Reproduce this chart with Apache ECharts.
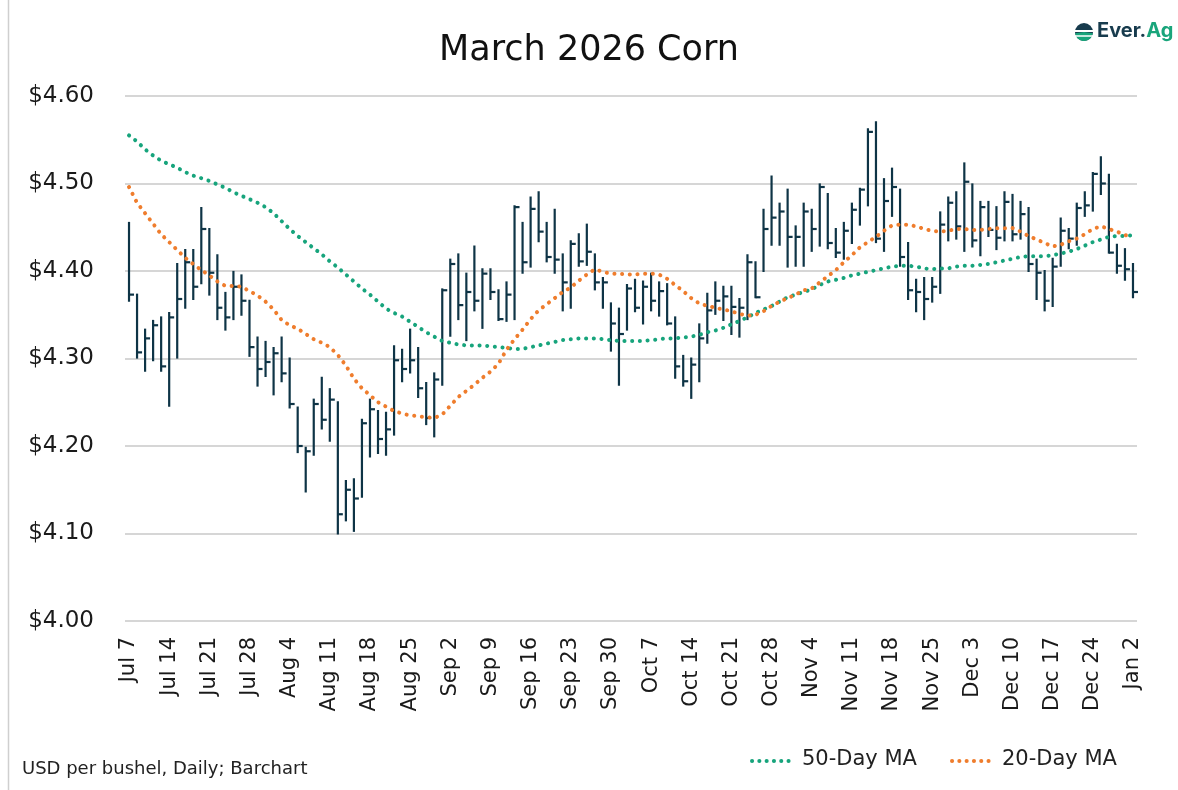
<!DOCTYPE html>
<html>
<head>
<meta charset="utf-8">
<script src="https://cdn.jsdelivr.net/npm/echarts@6/dist/echarts.min.js"></script>
<style>
html,body{margin:0;padding:0;background:#fff;}
#chart{width:1178px;height:790px;}
</style>
</head>
<body>
<div id="chart"></div>
<script>
// Trading days, Jul 7 2025 – Jan 2 2026
const categories = [
 "Jul 7","Jul 8","Jul 9","Jul 10","Jul 11","Jul 14","Jul 15","Jul 16","Jul 17","Jul 18",
 "Jul 21","Jul 22","Jul 23","Jul 24","Jul 25","Jul 28","Jul 29","Jul 30","Jul 31","Aug 1",
 "Aug 4","Aug 5","Aug 6","Aug 7","Aug 8","Aug 11","Aug 12","Aug 13","Aug 14","Aug 15",
 "Aug 18","Aug 19","Aug 20","Aug 21","Aug 22","Aug 25","Aug 26","Aug 27","Aug 28","Aug 29",
 "Sep 2","Sep 3","Sep 4","Sep 5","Sep 8","Sep 9","Sep 10","Sep 11","Sep 12","Sep 15",
 "Sep 16","Sep 17","Sep 18","Sep 19","Sep 22","Sep 23","Sep 24","Sep 25","Sep 26","Sep 29",
 "Sep 30","Oct 1","Oct 2","Oct 3","Oct 6","Oct 7","Oct 8","Oct 9","Oct 10","Oct 13",
 "Oct 14","Oct 15","Oct 16","Oct 17","Oct 20","Oct 21","Oct 22","Oct 23","Oct 24","Oct 27",
 "Oct 28","Oct 29","Oct 30","Oct 31","Nov 3","Nov 4","Nov 5","Nov 6","Nov 7","Nov 10",
 "Nov 11","Nov 12","Nov 13","Nov 14","Nov 17","Nov 18","Nov 19","Nov 20","Nov 21","Nov 24",
 "Nov 25","Nov 26","Nov 28","Dec 1","Dec 2","Dec 3","Dec 4","Dec 5","Dec 8","Dec 9",
 "Dec 10","Dec 11","Dec 12","Dec 15","Dec 16","Dec 17","Dec 18","Dec 19","Dec 22","Dec 23",
 "Dec 24","Dec 26","Dec 29","Dec 30","Dec 31","Jan 2"
];

const high = [
 4.455,4.373,4.333,4.343,4.347,4.352,4.408,4.424,4.424,4.472,
 4.448,4.418,4.375,4.399,4.395,4.366,4.324,4.319,4.312,4.324,
 4.300,4.244,4.198,4.253,4.278,4.265,4.250,4.160,4.162,4.230,
 4.253,4.240,4.238,4.314,4.310,4.333,4.312,4.272,4.283,4.379,
 4.413,4.419,4.397,4.428,4.402,4.402,4.378,4.387,4.474,4.455,
 4.484,4.490,4.455,4.470,4.419,4.434,4.442,4.453,4.419,4.392,
 4.363,4.357,4.384,4.390,4.388,4.397,4.387,4.385,4.347,4.303,
 4.300,4.339,4.374,4.387,4.382,4.382,4.368,4.418,4.410,4.470,
 4.508,4.477,4.493,4.451,4.477,4.470,4.499,4.488,4.448,4.455,
 4.477,4.494,4.562,4.570,4.505,4.517,4.493,4.432,4.390,4.392,
 4.392,4.467,4.484,4.490,4.523,4.499,4.479,4.479,4.473,4.490,
 4.487,4.479,4.472,4.413,4.400,4.414,4.460,4.448,4.477,4.490,
 4.512,4.530,4.510,4.430,4.425,4.408
];
const low = [
 4.366,4.301,4.286,4.298,4.286,4.246,4.301,4.358,4.368,4.386,
 4.373,4.345,4.333,4.345,4.350,4.303,4.269,4.280,4.259,4.274,
 4.244,4.193,4.148,4.190,4.220,4.206,4.100,4.115,4.103,4.142,
 4.188,4.192,4.190,4.213,4.274,4.284,4.256,4.225,4.211,4.270,
 4.326,4.345,4.321,4.355,4.335,4.368,4.344,4.343,4.345,4.398,
 4.405,4.434,4.411,4.398,4.355,4.358,4.406,4.407,4.379,4.358,
 4.309,4.270,4.333,4.354,4.340,4.355,4.349,4.339,4.278,4.269,
 4.255,4.274,4.318,4.351,4.344,4.328,4.325,4.345,4.370,4.400,
 4.430,4.430,4.405,4.406,4.406,4.423,4.429,4.426,4.416,4.414,
 4.432,4.453,4.475,4.433,4.423,4.463,4.406,4.368,4.354,4.345,
 4.365,4.375,4.435,4.437,4.423,4.428,4.418,4.440,4.425,4.435,
 4.435,4.437,4.400,4.368,4.355,4.360,4.406,4.426,4.430,4.463,
 4.469,4.488,4.421,4.398,4.390,4.370
];
const close = [
 4.373,4.307,4.323,4.338,4.291,4.347,4.368,4.410,4.382,4.448,
 4.398,4.358,4.347,4.382,4.366,4.313,4.288,4.296,4.306,4.283,
 4.248,4.200,4.194,4.248,4.230,4.253,4.122,4.150,4.140,4.226,
 4.242,4.208,4.219,4.298,4.288,4.298,4.266,4.232,4.276,4.378,
 4.408,4.361,4.376,4.366,4.397,4.376,4.345,4.373,4.473,4.410,
 4.471,4.445,4.416,4.413,4.387,4.431,4.411,4.422,4.387,4.387,
 4.340,4.328,4.380,4.358,4.382,4.366,4.377,4.340,4.291,4.274,
 4.293,4.323,4.355,4.366,4.371,4.359,4.358,4.410,4.370,4.448,
 4.461,4.468,4.439,4.439,4.468,4.448,4.496,4.432,4.421,4.446,
 4.470,4.493,4.559,4.437,4.480,4.496,4.416,4.378,4.376,4.368,
 4.382,4.453,4.478,4.451,4.502,4.435,4.473,4.447,4.438,4.479,
 4.442,4.465,4.408,4.398,4.366,4.405,4.446,4.437,4.472,4.475,
 4.511,4.500,4.421,4.406,4.402,4.376
];
const ma50 = [
 4.555,4.548,4.539,4.532,4.526,4.522,4.518,4.513,4.509,4.506,
 4.503,4.499,4.495,4.490,4.486,4.482,4.478,4.473,4.466,4.457,
 4.448,4.440,4.433,4.426,4.419,4.411,4.404,4.396,4.388,4.380,
 4.373,4.365,4.357,4.352,4.348,4.342,4.336,4.330,4.325,4.320,
 4.318,4.316,4.315,4.315,4.315,4.314,4.313,4.312,4.311,4.311,
 4.313,4.315,4.317,4.319,4.321,4.322,4.323,4.323,4.323,4.322,
 4.321,4.320,4.320,4.320,4.320,4.321,4.322,4.323,4.323,4.324,
 4.325,4.327,4.330,4.332,4.335,4.339,4.343,4.347,4.352,4.356,
 4.360,4.365,4.370,4.373,4.376,4.379,4.384,4.388,4.390,4.392,
 4.395,4.397,4.399,4.401,4.403,4.405,4.406,4.406,4.405,4.403,
 4.402,4.403,4.403,4.405,4.406,4.406,4.407,4.408,4.410,4.412,
 4.414,4.416,4.417,4.417,4.417,4.418,4.420,4.422,4.425,4.429,
 4.433,4.436,4.439,4.440,4.440,4.441
];
const ma20 = [
 4.496,4.478,4.466,4.454,4.442,4.433,4.424,4.415,4.408,4.401,
 4.395,4.388,4.383,4.383,4.382,4.377,4.372,4.365,4.356,4.344,
 4.338,4.334,4.328,4.322,4.318,4.313,4.304,4.292,4.277,4.266,
 4.258,4.250,4.245,4.240,4.237,4.235,4.234,4.233,4.232,4.236,
 4.246,4.256,4.263,4.270,4.278,4.285,4.294,4.310,4.322,4.333,
 4.345,4.355,4.362,4.369,4.376,4.381,4.389,4.396,4.402,4.399,
 4.397,4.397,4.396,4.396,4.397,4.397,4.396,4.391,4.384,4.377,
 4.369,4.363,4.360,4.358,4.356,4.354,4.351,4.349,4.350,4.354,
 4.360,4.365,4.369,4.373,4.378,4.380,4.387,4.394,4.401,4.410,
 4.418,4.427,4.433,4.439,4.446,4.452,4.453,4.453,4.451,4.448,
 4.446,4.445,4.446,4.448,4.448,4.447,4.447,4.448,4.449,4.449,
 4.449,4.445,4.440,4.436,4.432,4.428,4.430,4.434,4.437,4.442,
 4.448,4.451,4.448,4.445,4.441,4.439
];
const yTicks = {min: 4.0, max: 4.6, interval: 0.1};
const legendNames = ['50-Day MA', '20-Day MA'];

const BAR_COLOR = '#0e3446';
const GREEN = '#17a47c';
const ORANGE = '#ef7d2d';
const FONT = '"DejaVu Sans", "Noto Sans", sans-serif';
const LOGO_FONT = 'Inter, "Noto Sans", sans-serif';

const hlc = categories.map((c, i) => [i, high[i], low[i], close[i]]);

const chart = echarts.init(document.getElementById('chart'));
chart.setOption({
  backgroundColor: '#ffffff',
  animation: false,
  title: {
    text: 'March 2026 Corn',
    left: 'center',
    top: 28,
    textStyle: {fontFamily: FONT, fontSize: 35, fontWeight: 'normal', color: '#111'}
  },
  grid: {left: 125, right: 41, top: 96, bottom: 169, containLabel: false},
  xAxis: {
    type: 'category',
    data: categories,
    boundaryGap: true,
    axisLine: {show: false},
    axisTick: {show: false},
    axisLabel: {
      interval: 4,
      rotate: 90,
      margin: 16,
      fontFamily: FONT,
      fontSize: 21,
      color: '#1a1a1a'
    }
  },
  yAxis: {
    type: 'value',
    min: yTicks.min,
    max: yTicks.max,
    interval: yTicks.interval,
    axisLine: {show: false},
    axisTick: {show: false},
    splitLine: {lineStyle: {color: '#c9c9c9', width: 1.5}},
    axisLabel: {
      margin: 31,
      fontFamily: FONT,
      fontSize: 23,
      color: '#1a1a1a',
      formatter: v => '$' + v.toFixed(2)
    }
  },
  series: [
    {
      name: 'HLC',
      type: 'custom',
      data: hlc,
      encode: {x: 0, y: [1, 2, 3]},
      z: 3,
      renderItem: function (params, api) {
        const i = api.value(0);
        const hi = api.coord([i, api.value(1)]);
        const lo = api.coord([i, api.value(2)]);
        const cl = api.coord([i, api.value(3)]);
        const style = {stroke: BAR_COLOR, lineWidth: 2.2, fill: null};
        return {
          type: 'group',
          children: [
            {type: 'line', shape: {x1: hi[0], y1: hi[1] - 1, x2: lo[0], y2: lo[1] + 1}, style: style},
            {type: 'line', shape: {x1: cl[0], y1: cl[1], x2: cl[0] + 5, y2: cl[1]}, style: style}
          ]
        };
      }
    },
    {
      name: legendNames[0],
      type: 'line',
      data: ma50,
      symbol: 'none',
      z: 4,
      lineStyle: {color: GREEN, width: 4, type: [0.1, 7.6], cap: 'round'},
      itemStyle: {color: GREEN}
    },
    {
      name: legendNames[1],
      type: 'line',
      data: ma20,
      symbol: 'none',
      z: 4,
      lineStyle: {color: ORANGE, width: 4, type: [0.1, 7.6], cap: 'round'},
      itemStyle: {color: ORANGE}
    }
  ],
  graphic: [
    {type: 'line', shape: {x1: 8.5, y1: 0, x2: 8.5, y2: 790}, style: {stroke: '#cfcfcf', lineWidth: 1.5}},
    // legend (dotted icons + labels)
    {type: 'line', shape: {x1: 752, y1: 761, x2: 795, y2: 761},
     style: {stroke: GREEN, lineWidth: 4, lineDash: [0.1, 7.2], lineCap: 'round'}},
    {type: 'text', left: 802, top: 749,
     style: {text: legendNames[0], font: '21px ' + FONT, fill: '#222'}},
    {type: 'line', shape: {x1: 952, y1: 761, x2: 995, y2: 761},
     style: {stroke: ORANGE, lineWidth: 4, lineDash: [0.1, 7.2], lineCap: 'round'}},
    {type: 'text', left: 1002, top: 749,
     style: {text: legendNames[1], font: '21px ' + FONT, fill: '#222'}},
    {type: 'text', left: 22, top: 760,
     style: {text: 'USD per bushel, Daily; Barchart', font: '18px ' + FONT, fill: '#222'}},
    // Ever.Ag logo
    {type: 'circle', shape: {cx: 1084, cy: 32, r: 9}, style: {fill: '#173b4d'}},
    {type: 'sector', shape: {cx: 1084, cy: 32, r: 9, r0: 0, startAngle: 0.15, endAngle: Math.PI - 0.15},
     style: {fill: '#19a57b'}},
    {type: 'line', shape: {x1: 1075, y1: 31, x2: 1093, y2: 31}, style: {stroke: '#fff', lineWidth: 2}},
    {type: 'line', shape: {x1: 1075, y1: 36, x2: 1093, y2: 36}, style: {stroke: '#fff', lineWidth: 1.5}},
    {type: 'text', left: 1097, top: 21,
     style: {text: '{a|Ever.}{b|Ag}', rich: {
       a: {font: 'bold 20px ' + LOGO_FONT, fill: '#173b4d'},
       b: {font: 'bold 20px ' + LOGO_FONT, fill: '#19a57b'}
     }}}
  ]
});
</script>
</body>
</html>
